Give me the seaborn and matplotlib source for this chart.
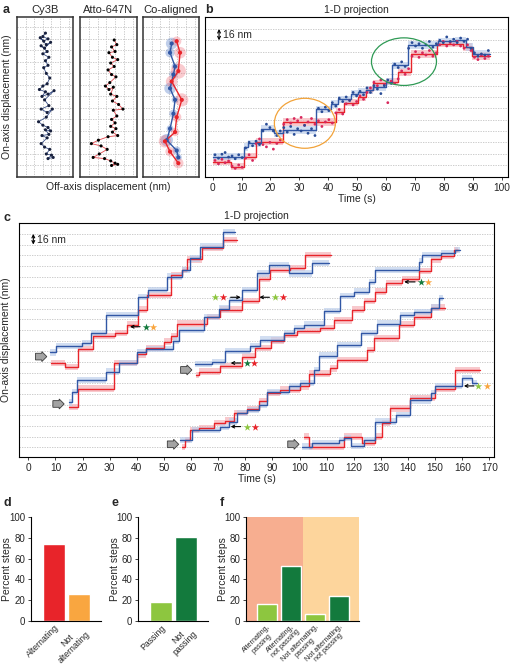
import numpy as np
import pandas as pd
import matplotlib
matplotlib.use('Agg')
import matplotlib.pyplot as plt
import seaborn as sns
from matplotlib.patches import Ellipse

sns.set_style('white')
plt.rcParams['font.family'] = ['Liberation Sans', 'DejaVu Sans']

# ---------------- colours ----------------
BLUE = '#3157a5'
RED = '#e8242a'
BLUE_BAND = '#bfd0ec'
RED_BAND = '#f6b3b8'
LGREEN = '#8dc63f'
DGREEN = '#137a3d'
ORANGE = '#f9a640'
GRID = '#c4c4c4'

# ---------------- panel a data (grid units, 1 unit = 16 nm) ----------------
CY3B_X = [3.3, 3.0, 3.6, 3.1, 2.7, 3.4, 3.9, 3.2, 2.8, 3.5, 3.0, 3.7, 3.3, 3.6, 3.1, 3.4, 3.8, 3.5,
          3.0, 2.6, 3.3, 2.9, 3.6, 4.3, 3.2, 3.7, 2.8, 3.5, 4.1, 3.4, 2.5, 3.0, 3.6, 3.9, 3.3, 3.7,
          2.9, 3.5, 2.8, 3.2, 3.8, 3.4, 4.0, 3.6, 4.2]
CY3B_Y = [12.5, 12.2, 12.0, 11.8, 12.1, 11.5, 11.7, 11.2, 11.4, 10.9, 10.7, 10.4, 10.1, 9.7, 9.5,
          9.0, 8.6, 8.1, 7.9, 7.6, 7.4, 7.0, 7.2, 7.5, 6.7, 6.2, 5.9, 5.6, 5.9, 5.2, 4.8, 4.5, 4.3,
          4.0, 4.1, 3.7, 3.6, 3.4, 2.9, 2.6, 2.4, 2.0, 1.9, 1.6, 1.7]
ATTO_X = [3.9, 4.2, 3.6, 4.0, 3.3, 3.7, 4.3, 3.5, 3.9, 3.2, 3.6, 4.1, 3.4, 2.9, 3.3, 3.8, 3.5, 4.2,
          3.7, 4.4, 4.9, 3.8, 4.2, 3.6, 4.0, 3.5, 4.1, 3.7, 4.3, 3.2, 2.1, 1.3, 2.4, 3.1, 2.2, 1.5,
          2.8, 3.5, 4.0, 3.6, 4.3]
ATTO_Y = [11.9, 11.5, 11.3, 10.9, 10.8, 10.4, 10.2, 9.9, 9.6, 9.3, 8.9, 8.7, 8.2, 7.9, 7.6, 7.8,
          7.2, 7.0, 6.6, 6.3, 5.9, 5.8, 5.3, 5.0, 4.7, 4.4, 4.2, 3.9, 3.6, 3.5, 3.2, 2.9, 2.7, 2.4,
          2.0, 1.7, 1.6, 1.4, 1.2, 1.0, 1.1]
CO_BLUE_X = [3.33, 3.14, 3.72, 3.53, 3.14, 3.72, 3.53, 3.14, 2.76, 3.91, 4.10]
CO_BLUE_Y = [11.6, 10.8, 9.6, 8.9, 7.7, 6.7, 5.5, 4.2, 3.2, 2.3, 1.7]
CO_BLUE_S = [70, 45, 25, 35, 70, 25, 35, 25, 80, 35, 25]
CO_RED_X = [3.91, 4.30, 4.10, 3.33, 4.50, 3.91, 3.72, 2.55, 3.14, 4.10]
CO_RED_Y = [11.8, 10.8, 9.2, 8.3, 6.7, 5.2, 3.9, 3.1, 2.2, 1.2]
CO_RED_S = [45, 70, 120, 70, 90, 45, 35, 80, 45, 55]

# ---------------- panel b data (time s, grid units) ----------------
B_BLUE_T = [0.0, 10.9, 12.1, 16.7, 21.3, 24.2, 35.7, 40.9, 43.2, 47.8, 50.3, 53.2, 55.5, 60.1,
            61.9, 67.6, 78.0, 83.8, 87.8, 90.1, 95.9]
B_BLUE_Y = [0.74, 1.6, 1.9, 3.2, 2.8, 3.1, 4.9, 5.4, 5.8, 6.3, 6.45, 6.6, 6.9, 7.35, 8.8, 10.6,
            10.9, 11.0, 10.4, 9.8]
B_RED_T = [0.0, 6.3, 10.9, 15.0, 24.2, 42.6, 45.5, 50.3, 53.2, 55.5, 60.1, 64.2, 68.8, 77.5,
           86.7, 89.6, 95.9]
B_RED_Y = [0.3, -0.15, 0.74, 2.06, 3.8, 4.7, 5.5, 6.0, 6.6, 7.2, 7.35, 8.2, 9.8, 10.7, 10.4, 9.6]

B_BLUE_DOT_T = [0.8, 2.0, 3.2, 4.3, 5.5, 6.7, 7.8, 9.0, 10.2, 11.4, 12.6, 13.8, 15.0, 16.2, 17.4,
                18.6, 19.8, 21.0, 22.2, 23.4, 24.6, 25.8, 27.0, 28.2, 29.4, 30.6, 31.8, 33.0,
                34.2, 35.4, 36.6, 37.8, 39.0, 40.2, 41.4, 42.6, 43.8, 45.0, 46.2, 47.4, 48.6,
                49.8, 51.0, 52.2, 53.4, 54.6, 55.8, 57.0, 58.2, 59.4, 60.6, 61.8, 63.0, 64.2,
                65.4, 66.6, 67.8, 69.0, 70.2, 71.4, 72.6, 73.8, 75.0, 76.2, 77.4, 78.6, 79.8,
                81.0, 82.2, 83.4, 84.6, 85.8, 87.0, 88.2, 89.4, 90.6, 91.8, 93.0, 94.2, 95.4]
B_BLUE_DOT_Y = [0.9, 0.6, 0.95, 1.1, 0.7, 0.8, 0.55, 0.9, 0.65, 1.5, 2.0, 1.7, 2.1, 1.8, 3.0,
                3.6, 3.3, 3.0, 2.6, 3.0, 3.3, 2.9, 3.4, 2.7, 3.2, 3.0, 3.5, 2.8, 3.2, 2.6, 5.0,
                4.7, 5.1, 4.8, 5.5, 5.2, 5.9, 5.6, 6.0, 5.7, 6.4, 6.1, 6.5, 6.2, 6.8, 6.4, 7.0,
                6.7, 6.3, 7.0, 7.5, 7.2, 8.9, 8.6, 9.1, 8.7, 10.3, 10.8, 10.5, 10.7, 10.3, 10.6,
                10.9, 10.4, 10.7, 11.0, 10.8, 11.3, 10.9, 11.1, 10.8, 11.2, 10.9, 11.1, 10.3,
                9.9, 9.6, 9.8, 9.7, 10.1]
B_RED_DOT_T = B_BLUE_DOT_T
B_RED_DOT_Y = [0.4, 0.1, 0.5, 0.2, 0.35, -0.1, -0.3, 0.0, -0.2, 0.6, 0.9, 0.4, 1.9, 2.3, 1.8,
               1.6, 2.0, 1.4, 1.9, 2.2, 3.6, 4.0, 3.7, 4.1, 3.9, 4.2, 3.5, 3.8, 4.1, 3.6, 3.9,
               3.4, 3.8, 4.0, 3.7, 4.6, 4.9, 4.5, 5.4, 5.7, 5.3, 5.6, 6.1, 5.8, 6.4, 6.8, 7.3,
               7.0, 7.5, 7.1, 5.5, 7.4, 7.2, 7.6, 8.3, 8.0, 8.5, 9.6, 10.0, 9.5, 9.9, 9.7, 10.1,
               9.6, 9.9, 10.6, 10.9, 10.5, 10.8, 10.6, 10.9, 10.5, 10.3, 10.6, 10.1, 9.5, 9.3,
               9.7, 9.4, 9.6]

# ---------------- panel c data (time s, grid units) ----------------
C1_BLUE_T = [7.9, 10.1, 19.9, 23.3, 28.5, 40.6, 44.2, 51.0, 56.5, 59.6, 63.3, 71.9, 76.3]
C1_BLUE_Y = [8.9, 9.5, 9.75, 10.7, 12.4, 14.1, 14.75, 16.0, 16.6, 17.7, 18.8, 20.15]
C1_RED_T = [8.3, 13.6, 18.4, 24.0, 32.0, 36.5, 40.6, 43.8, 52.5, 56.5, 58.5, 63.9, 71.9, 76.8]
C1_RED_Y = [7.9, 7.55, 9.2, 10.45, 10.7, 11.5, 12.9, 14.25, 16.1, 16.6, 17.6, 18.7, 19.4]

C2_BLUE_T = [15.0, 16.2, 18.1, 28.8, 33.4, 40.2, 43.3, 53.5, 55.5, 64.7, 70.2, 73.9, 78.8, 84.3,
             88.6, 96.0, 104.6, 111.0]
C2_BLUE_Y = [4.2, 5.2, 6.3, 7.1, 7.9, 8.9, 9.2, 10.0, 11.0, 12.2, 13.0, 13.8, 14.75, 16.3, 17.1,
             16.3, 17.25]
C2_RED_T = [15.0, 18.4, 31.6, 40.2, 43.3, 50.0, 52.5, 55.0, 66.0, 70.8, 78.8, 84.9, 89.2, 96.6,
            102.2, 111.5]
C2_RED_Y = [3.8, 5.5, 7.9, 8.7, 9.3, 9.9, 10.4, 11.6, 12.2, 12.9, 13.7, 15.8, 16.6, 16.8, 18.0]

C3_BLUE_T = [61.6, 67.7, 72.7, 81.9, 85.6, 94.2, 97.9, 101.5, 108.9, 115.1, 120.0, 125.5, 128.0,
             144.0, 145.2, 152.0, 157.5, 159.0]
C3_BLUE_Y = [7.8, 8.0, 9.0, 9.5, 10.1, 10.7, 11.2, 11.5, 12.8, 14.2, 14.6, 15.5, 16.6, 17.4,
             18.0, 18.2, 18.5]
C3_RED_T = [62.0, 62.8, 70.8, 78.8, 83.7, 89.3, 94.2, 99.1, 107.7, 112.6, 119.4, 123.7, 128.0,
            131.7, 137.8, 144.0, 148.3, 152.0, 156.9, 158.5]
C3_RED_Y = [6.8, 7.1, 7.6, 8.5, 9.3, 10.0, 10.5, 10.9, 11.2, 11.9, 12.9, 13.7, 14.6, 15.4, 15.75,
            16.5, 17.6, 17.9, 18.5]

C4_BLUE_T = [56.1, 60.4, 70.8, 73.9, 77.0, 80.6, 85.0, 88.0, 96.0, 100.3, 105.2, 107.0, 113.9,
             122.5, 128.6, 137.2, 142.1, 148.3, 151.3, 153.0]
C4_BLUE_Y = [0.7, 1.6, 1.9, 2.4, 3.2, 3.5, 4.0, 5.2, 5.7, 6.0, 7.2, 8.6, 9.6, 10.7, 11.6, 12.4,
             12.7, 13.1, 14.0]
C4_RED_T = [56.7, 57.9, 59.8, 62.8, 68.4, 72.7, 75.7, 80.6, 85.0, 88.0, 92.9, 100.3, 103.4,
            111.4, 113.9, 124.9, 127.4, 136.6, 142.1, 148.3, 153.5]
C4_RED_Y = [0.0, 0.7, 1.6, 1.8, 2.25, 2.5, 3.2, 3.6, 4.3, 5.1, 5.4, 5.7, 6.9, 7.4, 8.2, 9.1,
            10.2, 11.5, 12.25, 13.1]

C5_BLUE_T = [100.9, 104.6, 114.5, 116.3, 118.8, 123.7, 128.0, 135.4, 140.9, 148.3, 150.1, 159.9,
             163.6, 165.5]
C5_BLUE_Y = [0.06, 0.4, 0.7, 0.85, 0.1, 0.7, 2.4, 3.0, 4.4, 5.1, 5.75, 6.5, 6.0]
C5_RED_T = [101.5, 103.4, 116.3, 123.1, 128.0, 130.4, 133.5, 140.9, 150.1, 157.5, 166.5]
C5_RED_Y = [1.0, 0.06, 1.0, 0.4, 1.0, 2.25, 3.65, 4.6, 5.5, 7.25]

C_TRACES = [(C1_BLUE_T, C1_BLUE_Y, C1_RED_T, C1_RED_Y),
            (C2_BLUE_T, C2_BLUE_Y, C2_RED_T, C2_RED_Y),
            (C3_BLUE_T, C3_BLUE_Y, C3_RED_T, C3_RED_Y),
            (C4_BLUE_T, C4_BLUE_Y, C4_RED_T, C4_RED_Y),
            (C5_BLUE_T, C5_BLUE_Y, C5_RED_T, C5_RED_Y)]

# start markers (grey block arrows)
C_START_T = [4.3, 10.7, 57.8, 52.9, 97.3]
C_START_Y = [8.5, 4.06, 7.25, 0.28, 0.28]
# annotations: arrow tail t, arrow head t, y, star1 t, star1 colour, star2 t, star2 colour
C_NOTES = [
    (41.2, 37.5, 11.3, 43.3, DGREEN, 46.1, ORANGE),
    (74.6, 78.3, 14.06, 68.8, LGREEN, 71.7, RED),
    (88.9, 85.2, 14.06, 91.0, LGREEN, 93.8, RED),
    (78.3, 74.6, 7.9, 80.5, DGREEN, 83.2, RED),
    (142.6, 138.6, 15.5, 144.7, DGREEN, 147.5, ORANGE),
    (78.3, 74.6, 1.94, 80.5, LGREEN, 83.6, RED),
    (164.3, 160.6, 5.75, 165.9, LGREEN, 169.0, ORANGE),
]

# ---------------- bar data ----------------
D_CATS = ['Alternating', 'Not\nalternating']
D_VALS = [74, 26]
D_COLORS = [RED, ORANGE]
E_CATS = ['Passing', 'Not\npassing']
E_VALS = [18, 81]
E_COLORS = [LGREEN, DGREEN]
F_CATS = ['Alternating,\npassing', 'Alternating,\nnot passing',
          'Not alternating,\npassing', 'Not alternating,\nnot passing']
F_VALS = [16, 53, 7, 24]
F_COLORS = [LGREEN, DGREEN, LGREEN, DGREEN]
F_BG = ['#f7ae90', '#fdd59c']

# ---------------- figure ----------------
W, H = 514, 667
fig = plt.figure(figsize=(W / 100, H / 100), dpi=100)


def px_axes(x0, y0, x1, y1):
    return fig.add_axes([x0 / W, 1 - y1 / H, (x1 - x0) / W, (y1 - y0) / H])


def step_df(t, y):
    return pd.DataFrame({'t': list(t), 'y': list(y) + [y[-1]]})


def draw_steps(ax, t, y, color, band, hw, lw):
    df = step_df(t, y)
    ax.fill_between(df['t'], df['y'] - hw, df['y'] + hw, step='post', color=band,
                    alpha=0.7, lw=0, zorder=1)
    sns.lineplot(data=df, x='t', y='y', drawstyle='steps-post', color=color, lw=lw,
                 estimator=None, sort=False, ax=ax, zorder=3)


grid_kw = dict(color=GRID, lw=0.6, ls=(0, (1.6, 1.4)))

# ---- panel a ----
a_boxes = [(17, 17, 73, 177), (80, 17, 137, 177), (143, 17, 199, 177)]
a_titles = ['Cy3B', 'Atto-647N', 'Co-aligned']
axes_a = []
for box, title in zip(a_boxes, a_titles):
    ax = px_axes(*box)
    ax.set_xlim(0, 6.5)
    ax.set_ylim(0, 13.9)
    ax.set_xticks(np.arange(1, 7))
    ax.set_yticks(np.arange(1, 14))
    ax.grid(True, **grid_kw)
    ax.tick_params(length=0, labelbottom=False, labelleft=False)
    for s in ax.spines.values():
        s.set_color('#333333')
        s.set_linewidth(1.1)
    ax.set_title(title, fontsize=8, pad=3)
    axes_a.append(ax)

ax = axes_a[0]
sns.lineplot(x=CY3B_X, y=CY3B_Y, sort=False, estimator=None, color='#3a4f86', lw=0.6, ax=ax)
sns.scatterplot(x=CY3B_X, y=CY3B_Y, color='#17203d', s=5, edgecolor='none', ax=ax, zorder=3)
ax = axes_a[1]
sns.lineplot(x=ATTO_X, y=ATTO_Y, sort=False, estimator=None, color='#e2474d', lw=0.6, ax=ax)
sns.scatterplot(x=ATTO_X, y=ATTO_Y, color='black', s=5, edgecolor='none', ax=ax, zorder=3)
ax = axes_a[2]
ax.scatter(CO_BLUE_X, CO_BLUE_Y, s=CO_BLUE_S, color='#4a74c4', alpha=0.35, lw=0, zorder=2)
ax.scatter(CO_RED_X, CO_RED_Y, s=CO_RED_S, color='#f06a78', alpha=0.35, lw=0, zorder=2)
sns.lineplot(x=CO_BLUE_X, y=CO_BLUE_Y, sort=False, estimator=None, color=BLUE, lw=1.0, ax=ax)
sns.scatterplot(x=CO_BLUE_X, y=CO_BLUE_Y, color=BLUE, s=9, edgecolor='none', ax=ax, zorder=4)
sns.lineplot(x=CO_RED_X, y=CO_RED_Y, sort=False, estimator=None, color=RED, lw=1.0, ax=ax)
sns.scatterplot(x=CO_RED_X, y=CO_RED_Y, color=RED, s=9, edgecolor='none', ax=ax, zorder=4)
for a in axes_a:
    a.set_xlabel('')
    a.set_ylabel('')

fig.text(7 / W, 1 - 97 / H, 'On-axis displacement (nm)', rotation=90, fontsize=7.5,
         ha='center', va='center')
fig.text(108 / W, 1 - 187 / H, 'Off-axis displacement (nm)', fontsize=7.5,
         ha='center', va='center')

# ---- panel b ----
axb = px_axes(205, 17, 508, 177)
axb.set_xlim(-2.66, 102.2)
axb.set_ylim(-1.06, 13.06)
axb.set_yticks(np.arange(0, 13))
axb.grid(True, axis='y', **grid_kw)
axb.set_xticks(np.arange(0, 101, 10))
axb.tick_params(axis='x', labelsize=7.3, length=2.5, width=0.6, pad=1.5, bottom=True)
axb.tick_params(axis='y', length=0, labelleft=False)
draw_steps(axb, B_RED_T, B_RED_Y, RED, RED_BAND, 0.33, 1.0)
draw_steps(axb, B_BLUE_T, B_BLUE_Y, BLUE, BLUE_BAND, 0.33, 1.0)
sns.scatterplot(x=B_RED_DOT_T, y=B_RED_DOT_Y, color='#d8285c', s=4, edgecolor='none', ax=axb,
                zorder=4)
sns.scatterplot(x=B_BLUE_DOT_T, y=B_BLUE_DOT_Y, color='#2a4d97', s=4, edgecolor='none', ax=axb,
                zorder=4)
axb.add_patch(Ellipse((31.9, 3.68), 21.1, 4.41, fill=False, ec='#f2a33a', lw=0.9, zorder=5))
axb.add_patch(Ellipse((66.2, 9.12), 22.5, 4.2, fill=False, ec='#2f9a55', lw=0.9, zorder=5))
axb.annotate('', xy=(2.2, 12.0), xytext=(2.2, 11.0),
             arrowprops=dict(arrowstyle='<->', lw=0.8, color='black',
                             shrinkA=0, shrinkB=0, mutation_scale=5))
axb.text(3.4, 11.5, '16 nm', fontsize=7.5, va='center', ha='left')
axb.set_title('1-D projection', fontsize=7.5, pad=3)
axb.set_xlabel('Time (s)', fontsize=7.5, labelpad=1)
axb.set_ylabel('')
for s in axb.spines.values():
    s.set_color('black')
    s.set_linewidth(0.8)

# ---- panel c ----
axc = px_axes(19, 223, 494, 457)
axc.set_xlim(-3.43, 171.7)
axc.set_ylim(-0.91, 21.02)
axc.set_yticks(np.arange(0, 21))
axc.grid(True, axis='y', **grid_kw)
axc.set_xticks(np.arange(0, 171, 10))
axc.tick_params(axis='x', labelsize=7.3, length=2.5, width=0.6, pad=1.5, bottom=True)
axc.tick_params(axis='y', length=0, labelleft=False)
for bt, by, rt, ry in C_TRACES:
    draw_steps(axc, rt, ry, RED, RED_BAND, 0.3, 1.0)
    draw_steps(axc, bt, by, BLUE, BLUE_BAND, 0.3, 1.0)
for t0, y0 in zip(C_START_T, C_START_Y):
    axc.text(t0, y0, '     ', fontsize=3.2, ha='center', va='center', zorder=6,
             bbox=dict(boxstyle='rarrow,pad=0.3', fc='#a3a3a3', ec='#3a3a3a', lw=0.6))
for tail, head, yy, s1, c1, s2, c2 in C_NOTES:
    axc.annotate('', xy=(head, yy), xytext=(tail, yy),
                 arrowprops=dict(arrowstyle='->', lw=0.8, color='black', shrinkA=0,
                                 shrinkB=0, mutation_scale=5), zorder=6)
    axc.scatter([s1], [yy], marker='*', s=32, color=c1, lw=0, zorder=6)
    axc.scatter([s2], [yy], marker='*', s=32, color=c2, lw=0, zorder=6)
axc.annotate('', xy=(1.85, 20.0), xytext=(1.85, 19.0),
             arrowprops=dict(arrowstyle='<->', lw=0.8, color='black',
                             shrinkA=0, shrinkB=0, mutation_scale=5))
axc.text(3.2, 19.45, '16 nm', fontsize=7.5, va='center', ha='left')
axc.set_title('1-D projection', fontsize=7.5, pad=3)
axc.set_xlabel('Time (s)', fontsize=7.5, labelpad=1)
axc.set_ylabel('On-axis displacement (nm)', fontsize=7.5)
axc.yaxis.label.set_visible(True)
axc.yaxis.set_label_coords(-7.5 / 475, 0.5)
for s in axc.spines.values():
    s.set_color('black')
    s.set_linewidth(0.8)


# ---- panels d, e, f ----
def bar_panel(box, cats, vals, colors, xlim, label_fs, lab_off, bg=None):
    ax = px_axes(*box)
    if bg is not None:
        ax.axvspan(xlim[0], 1.5, color=bg[0], lw=0, zorder=0)
        ax.axvspan(1.5, xlim[1], color=bg[1], lw=0, zorder=0)
    sns.barplot(x=list(range(len(cats))), y=vals, hue=list(range(len(cats))),
                palette=colors, legend=False, width=0.85, saturation=1, ax=ax, zorder=2)
    ax.set_xlim(*xlim)
    ax.set_ylim(0, 100)
    ax.set_yticks(np.arange(0, 101, 20))
    ax.set_xticks(range(len(cats)))
    ax.set_xticklabels(cats, rotation=45, ha='right', rotation_mode='anchor',
                       fontsize=label_fs, multialignment='center', linespacing=1.0)
    ax.tick_params(axis='y', labelsize=7, length=2.5, width=0.6, pad=1.5, left=True)
    ax.tick_params(axis='x', length=0, pad=1.5)
    ax.set_ylabel('Percent steps', fontsize=7.5)
    ax.yaxis.label.set_visible(True)
    width = box[2] - box[0]
    ax.yaxis.set_label_coords(-lab_off / width, 0.5)
    ax.set_xlabel('')
    sns.despine(ax=ax)
    for s in ('left', 'bottom'):
        ax.spines[s].set_color('black')
        ax.spines[s].set_linewidth(0.8)
    ax.set_facecolor('none')
    return ax


bar_panel((31, 517, 101, 621), D_CATS, D_VALS, D_COLORS, (-0.92, 1.88), 6.3, 18.5)
bar_panel((138, 517, 208, 621), E_CATS, E_VALS, E_COLORS, (-0.92, 1.88), 6.3, 18.5)
bar_panel((246, 517, 359, 621), F_CATS, F_VALS, F_COLORS, (-0.87, 3.84), 5.2, 17.5, bg=F_BG)

# ---- panel letters ----
for letter, x, y in [('a', 3, 10), ('b', 205, 10), ('c', 3, 218), ('d', 3, 503),
                     ('e', 111, 503), ('f', 220, 503)]:
    fig.text(x / W, 1 - y / H, letter, fontsize=9, fontweight='bold', ha='left', va='center')

fig.savefig('out.png', dpi=100)
